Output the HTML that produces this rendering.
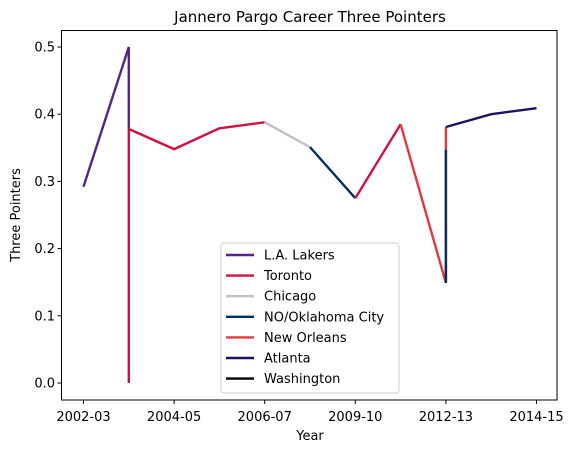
<!DOCTYPE html>
<html><head><meta charset="utf-8"><style>
body{margin:0;background:#fff;}
svg{display:block;font-family:"DejaVu Sans","Liberation Sans",sans-serif;}
</style></head><body>
<svg id="chart" width="573" height="453" viewBox="0 0 573 453">
<rect x="0" y="0" width="573" height="453" fill="#fff"/>
<text x="310" y="22" font-size="15" text-anchor="middle">Jannero Pargo Career Three Pointers</text>
<g id="axes"></g>
<g id="series"></g>
<rect x="61.5" y="30.5" width="495.5" height="369.5" fill="none" stroke="#000" stroke-width="1"/>
<text x="310" y="440" font-size="13" text-anchor="middle">Year</text>
<text x="20" y="215" font-size="13" text-anchor="middle" transform="rotate(-90 20 215)">Three Pointers</text>
<g id="legend"></g>
</svg>
<script>
const categories=["2002-03","2003-04","2004-05","2005-06","2006-07","2007-08","2009-10","2011-12","2012-13","2013-14","2014-15"];
const xTickIdx=[0,2,4,6,8,10];
const yTicks=[0,0.1,0.2,0.3,0.4,0.5];
const yTickLabels=["0.0","0.1","0.2","0.3","0.4","0.5"];
const teams=["L.A. Lakers","Toronto","Chicago","NO/Oklahoma City","New Orleans","Atlanta","Washington"];
const colors=["#552583","#CE1141","#BEC0C2","#002D62","#E03A3E","#1D1160","#000000"];
const lakersX=[0,1,1], lakersY=[0.292,0.5,0.378];
const torontoX=[1,1,2,3,4], torontoY=[0.0,0.378,0.348,0.379,0.388];
const chicagoX=[4,5], chicagoY=[0.388,0.351];
const nookcX=[5,6], nookcY=[0.351,0.275];
const toronto2X=[6,7], toronto2Y=[0.275,0.385];
const neworleansX=[7,8,8], neworleansY=[0.385,0.149,0.381];
const nookc2X=[8,8], nookc2Y=[0.149,0.347];
const atlantaX=[8,9,10], atlantaY=[0.381,0.40,0.409];
const segs=[[0,lakersX,lakersY],[1,torontoX,torontoY],[2,chicagoX,chicagoY],[3,nookcX,nookcY],[1,toronto2X,toronto2Y],[4,neworleansX,neworleansY],[3,nookc2X,nookc2Y],[5,atlantaX,atlantaY]];
const NS="http://www.w3.org/2000/svg";
const xs=i=>83.5+i*45.3;
const ys=v=>383-v*672;
const ax=document.getElementById('axes');
function mk(tag,attrs,parent){const e=document.createElementNS(NS,tag);for(const k in attrs)e.setAttribute(k,attrs[k]);parent.appendChild(e);return e;}
xTickIdx.forEach(i=>{
  const t=mk('line',{x1:xs(i),x2:xs(i),y1:400,y2:404,stroke:'#000'},ax);
  
  
  const l=mk('text',{x:xs(i),y:421,'font-size':13,'text-anchor':'middle'},ax);
  l.textContent=categories[i];
  
  
});
yTicks.forEach((v,k)=>{
  const t=mk('line',{x1:57.5,x2:61.5,y1:ys(v),y2:ys(v),stroke:'#000'},ax);
  
  
  const l=mk('text',{x:55,y:ys(v)+4.5,'font-size':13,'text-anchor':'end'},ax);
  l.textContent=yTickLabels[k];
  
  
});
const sg=document.getElementById('series');
segs.forEach(s=>{
  const pts=s[1].map((xi,j)=>xs(xi)+','+ys(s[2][j])).join(' ');
  const p=mk('polyline',{points:pts,fill:'none',stroke:colors[s[0]],'stroke-width':2.4},sg);
  
  
});
const lg=document.getElementById('legend');
const box=mk('rect',{x:221,y:243,width:178,height:150,rx:3,fill:'#fff','fill-opacity':0.8,stroke:'#ccc'},lg);


teams.forEach((t,i)=>{
  const y=255+i*20.6;
  const ln=mk('line',{x1:226,x2:254,y1:y,y2:y,stroke:colors[i],'stroke-width':2.4},lg);
  
  
  const tx=mk('text',{x:264,y:y+4.5,'font-size':13},lg);
  tx.textContent=t;
  
  
});
</script>
</body></html>
